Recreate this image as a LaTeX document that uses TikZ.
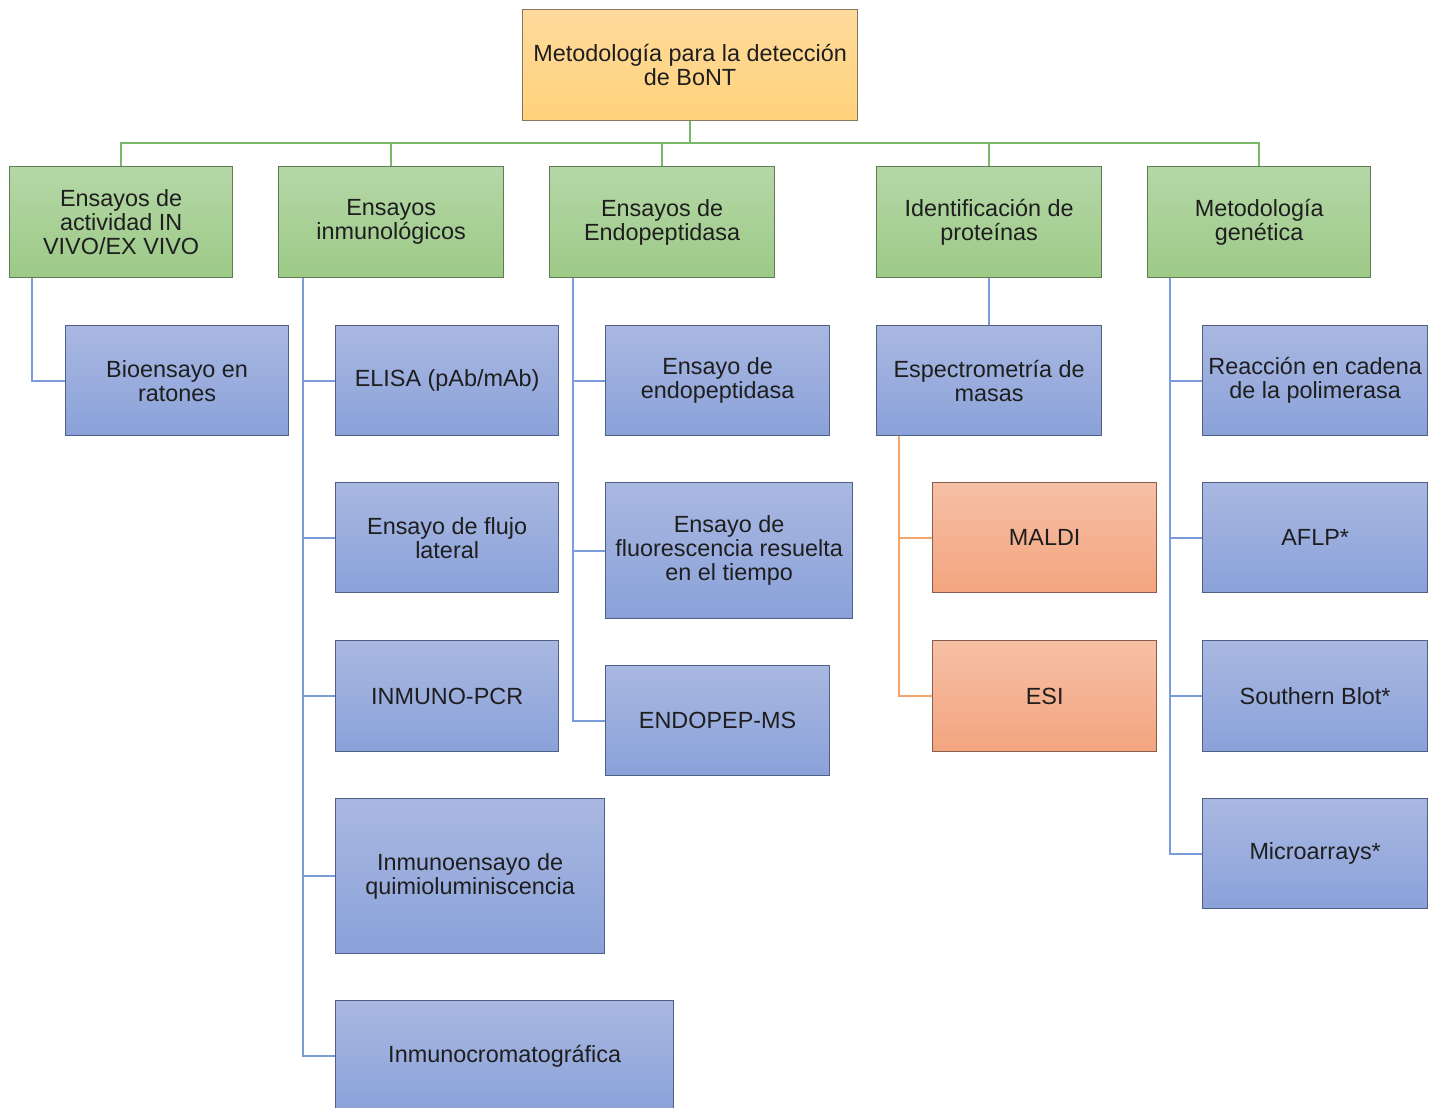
\documentclass[tikz,border=0pt]{standalone}
\usepackage{fontspec}
\setmainfont{Liberation Sans}
\definecolor{topA}{HTML}{FFDA9C}
\definecolor{topB}{HTML}{FFD27B}
\definecolor{topE}{HTML}{867A5E}
\definecolor{grA}{HTML}{B5D7A7}
\definecolor{grB}{HTML}{9DCA87}
\definecolor{grE}{HTML}{5F7B53}
\definecolor{blA}{HTML}{A9B8E1}
\definecolor{blB}{HTML}{8AA1D9}
\definecolor{blE}{HTML}{505F86}
\definecolor{orA}{HTML}{F6C0A5}
\definecolor{orB}{HTML}{F3A47F}
\definecolor{orE}{HTML}{8A5E4E}
\definecolor{glin}{HTML}{79B868}
\definecolor{blin}{HTML}{7C9BD9}
\definecolor{olin}{HTML}{F5A56C}
\definecolor{txt}{HTML}{1E1E1E}
\tikzset{
  box/.style={rectangle, anchor=north west, inner sep=2pt, align=center,
    text=txt, font=\fontsize{23.4}{24}\selectfont, line width=1.3pt},
  topbox/.style={box, top color=topA, bottom color=topB, draw=topE},
  grbox/.style={box, top color=grA, bottom color=grB, draw=grE},
  blbox/.style={box, top color=blA, bottom color=blB, draw=blE},
  orbox/.style={box, top color=orA, bottom color=orB, draw=orE},
  gline/.style={draw=glin, line width=1.8pt},
  bline/.style={draw=blin, line width=1.8pt},
  oline/.style={draw=olin, line width=1.8pt},
}
\begin{document}
\begin{tikzpicture}[x=1pt,y=1pt]
\useasboundingbox (0,0) rectangle (1438,-1108);
% top
\node[topbox, minimum width=335pt, minimum height=111pt] (top) at (522,-9) {Metodología para la detección\\de BoNT};
% level 1
\node[grbox, minimum width=223pt, minimum height=111pt] (A) at (9,-166) {Ensayos de\\actividad IN\\VIVO/EX VIVO};
\node[grbox, minimum width=225pt, minimum height=111pt] (B) at (278,-166) {Ensayos\\inmunológicos};
\node[grbox, minimum width=225pt, minimum height=111pt] (C) at (549,-166) {Ensayos de\\Endopeptidasa};
\node[grbox, minimum width=225pt, minimum height=111pt] (D) at (876,-166) {Identificación de\\proteínas};
\node[grbox, minimum width=223pt, minimum height=111pt] (E) at (1147,-166) {Metodología\\genética};
\coordinate (bus) at (0,-143);
% level 2
\node[blbox, minimum width=223pt, minimum height=110pt] (bio) at (65,-325) {Bioensayo en\\ratones};
\node[blbox, minimum width=223pt, minimum height=110pt] (elisa) at (335,-325) {ELISA (pAb/mAb)};
\node[blbox, minimum width=223pt, minimum height=110pt] (flujo) at (335,-482) {Ensayo de flujo\\lateral};
\node[blbox, minimum width=223pt, minimum height=111pt] (ipcr) at (335,-640) {INMUNO-PCR};
\node[blbox, minimum width=269pt, minimum height=155pt] (quimio) at (335,-798) {Inmunoensayo de\\quimioluminiscencia};
\node[blbox, minimum width=338pt, minimum height=112pt] (cromato) at (335,-1000) {Inmunocromatográfica};
\node[blbox, minimum width=224pt, minimum height=110pt] (endo) at (605,-325) {Ensayo de\\endopeptidasa};
\node[blbox, minimum width=247pt, minimum height=136pt] (fluo) at (605,-482) {Ensayo de\\fluorescencia resuelta\\en el tiempo};
\node[blbox, minimum width=224pt, minimum height=110pt] (endopep) at (605,-665) {ENDOPEP-MS};
\node[blbox, minimum width=225pt, minimum height=110pt] (espec) at (876,-325) {Espectrometría de\\masas};
\node[orbox, minimum width=224pt, minimum height=110pt] (maldi) at (932,-482) {MALDI};
\node[orbox, minimum width=224pt, minimum height=111pt] (esi) at (932,-640) {ESI};
\node[blbox, minimum width=225pt, minimum height=110pt] (pcr) at (1202,-325) {Reacción en cadena\\de la polimerasa};
\node[blbox, minimum width=225pt, minimum height=110pt] (aflp) at (1202,-482) {AFLP*};
\node[blbox, minimum width=225pt, minimum height=111pt] (south) at (1202,-640) {Southern Blot*};
\node[blbox, minimum width=225pt, minimum height=110pt] (micro) at (1202,-798) {Microarrays*};
% bus connectors
\draw[gline] (top.south) -- (top.south |- bus) -| (A.north);
\draw[gline] (top.south |- bus) -| (B.north);
\draw[gline] (top.south |- bus) -| (C.north);
\draw[gline] (top.south |- bus) -| (D.north);
\draw[gline] (top.south |- bus) -| (E.north);
% child connectors
\draw[bline] ([xshift=23pt]A.south west) |- (bio.west);
\draw[bline] ([xshift=25pt]B.south west) |- (elisa.west);
\draw[bline] ([xshift=25pt]B.south west) |- (flujo.west);
\draw[bline] ([xshift=25pt]B.south west) |- (ipcr.west);
\draw[bline] ([xshift=25pt]B.south west) |- (quimio.west);
\draw[bline] ([xshift=25pt]B.south west) |- ([yshift=1pt]cromato.west);
\draw[bline] ([xshift=24pt]C.south west) |- (endo.west);
\draw[bline] ([xshift=24pt]C.south west) |- (fluo.west);
\draw[bline] ([xshift=24pt]C.south west) |- (endopep.west);
\draw[bline] (D.south) -- (espec.north);
\draw[oline] ([xshift=23pt]espec.south west) |- (maldi.west);
\draw[oline] ([xshift=23pt]espec.south west) |- (esi.west);
\draw[bline] ([xshift=23pt]E.south west) |- (pcr.west);
\draw[bline] ([xshift=23pt]E.south west) |- (aflp.west);
\draw[bline] ([xshift=23pt]E.south west) |- (south.west);
\draw[bline] ([xshift=23pt]E.south west) |- (micro.west);
\end{tikzpicture}
\end{document}
